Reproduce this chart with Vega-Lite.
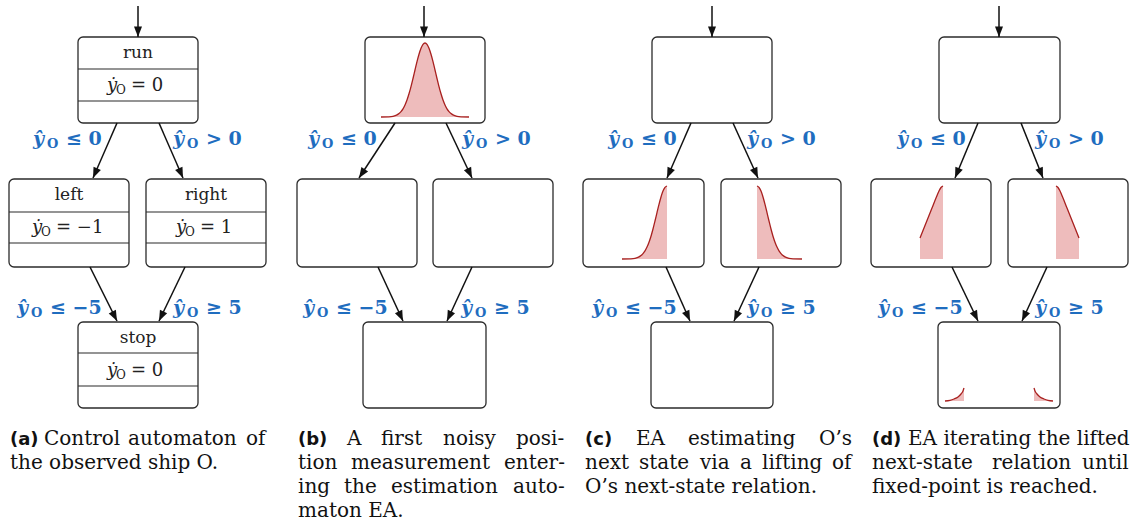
{
  "$schema": "https://vega.github.io/schema/vega-lite/v6.json",
  "width": 1132,
  "height": 525,
  "autosize": {"type": "fit", "contains": "padding"},
  "padding": 0,
  "background": "white",
  "config": {"view": {"stroke": null}},
  "datasets": {
    "boxes": [
      {"x": 78, "y": 37, "x2": 198, "y2": 123},
      {"x": 9, "y": 179, "x2": 129, "y2": 267},
      {"x": 146, "y": 179, "x2": 266, "y2": 267},
      {"x": 78, "y": 322, "x2": 198, "y2": 408},
      {"x": 365, "y": 37, "x2": 485, "y2": 123},
      {"x": 297, "y": 179, "x2": 417, "y2": 267},
      {"x": 433, "y": 179, "x2": 553, "y2": 267},
      {"x": 363, "y": 322, "x2": 486, "y2": 408},
      {"x": 652, "y": 37, "x2": 772, "y2": 123},
      {"x": 583, "y": 179, "x2": 704, "y2": 267},
      {"x": 721, "y": 179, "x2": 841, "y2": 267},
      {"x": 651, "y": 322, "x2": 773, "y2": 408},
      {"x": 939, "y": 37, "x2": 1060, "y2": 123},
      {"x": 871, "y": 179, "x2": 991, "y2": 267},
      {"x": 1008, "y": 179, "x2": 1128, "y2": 267},
      {"x": 938, "y": 322, "x2": 1060, "y2": 408}
    ],
    "seps": [
      {"x": 78, "x2": 198, "y": 69},
      {"x": 78, "x2": 198, "y": 101},
      {"x": 9, "x2": 129, "y": 212},
      {"x": 9, "x2": 129, "y": 243},
      {"x": 146, "x2": 266, "y": 212},
      {"x": 146, "x2": 266, "y": 243},
      {"x": 78, "x2": 198, "y": 353},
      {"x": 78, "x2": 198, "y": 386}
    ],
    "arrows": [
      {"x": 138, "y": 6, "x2": 138, "y2": 37},
      {"x": 117, "y": 123, "x2": 93, "y2": 178},
      {"x": 159, "y": 123, "x2": 183, "y2": 178},
      {"x": 90, "y": 267, "x2": 117, "y2": 321},
      {"x": 185, "y": 267, "x2": 159, "y2": 321},
      {"x": 424, "y": 6, "x2": 424, "y2": 37},
      {"x": 395, "y": 123, "x2": 359, "y2": 178},
      {"x": 446, "y": 123, "x2": 472, "y2": 178},
      {"x": 378, "y": 267, "x2": 403, "y2": 321},
      {"x": 472, "y": 267, "x2": 447, "y2": 321},
      {"x": 712, "y": 6, "x2": 712, "y2": 37},
      {"x": 691, "y": 123, "x2": 667, "y2": 178},
      {"x": 733, "y": 123, "x2": 758, "y2": 178},
      {"x": 666, "y": 267, "x2": 690, "y2": 321},
      {"x": 759, "y": 267, "x2": 734, "y2": 321},
      {"x": 999, "y": 6, "x2": 999, "y2": 37},
      {"x": 978, "y": 123, "x2": 955, "y2": 178},
      {"x": 1021, "y": 123, "x2": 1043, "y2": 178},
      {"x": 952, "y": 267, "x2": 978, "y2": 321},
      {"x": 1047, "y": 267, "x2": 1022, "y2": 321}
    ],
    "names": [
      {"x": 138, "y": 53, "t": "run"},
      {"x": 69, "y": 195, "t": "left"},
      {"x": 206, "y": 195, "t": "right"},
      {"x": 138, "y": 338, "t": "stop"}
    ],
    "math": [
      {"x": 107, "y": 86, "rel": "= 0"},
      {"x": 32, "y": 228, "rel": "= −1"},
      {"x": 176, "y": 228, "rel": "= 1"},
      {"x": 107, "y": 371, "rel": "= 0"}
    ],
    "labels": [
      {"x": 33, "y": 139, "rel": "≤ 0"},
      {"x": 173, "y": 139, "rel": "> 0"},
      {"x": 17, "y": 308, "rel": "≤ −5"},
      {"x": 173, "y": 308, "rel": "≥ 5"},
      {"x": 308, "y": 139, "rel": "≤ 0"},
      {"x": 462, "y": 139, "rel": "> 0"},
      {"x": 303, "y": 308, "rel": "≤ −5"},
      {"x": 461, "y": 308, "rel": "≥ 5"},
      {"x": 608, "y": 139, "rel": "≤ 0"},
      {"x": 747, "y": 139, "rel": "> 0"},
      {"x": 592, "y": 308, "rel": "≤ −5"},
      {"x": 747, "y": 308, "rel": "≥ 5"},
      {"x": 897, "y": 139, "rel": "≤ 0"},
      {"x": 1035, "y": 139, "rel": "> 0"},
      {"x": 878, "y": 308, "rel": "≤ −5"},
      {"x": 1035, "y": 308, "rel": "≥ 5"}
    ],
    "curves": [
      {"id": "b", "x": 381, "y": 117, "b": 117},
      {"id": "b", "x": 389, "y": 116.8, "b": 117},
      {"id": "b", "x": 393, "y": 116.3, "b": 117},
      {"id": "b", "x": 397, "y": 114.9, "b": 117},
      {"id": "b", "x": 399, "y": 113.6, "b": 117},
      {"id": "b", "x": 401, "y": 111.6, "b": 117},
      {"id": "b", "x": 403, "y": 108.8, "b": 117},
      {"id": "b", "x": 405, "y": 104.9, "b": 117},
      {"id": "b", "x": 407, "y": 100, "b": 117},
      {"id": "b", "x": 409, "y": 93.8, "b": 117},
      {"id": "b", "x": 411, "y": 86.6, "b": 117},
      {"id": "b", "x": 413, "y": 78.5, "b": 117},
      {"id": "b", "x": 415, "y": 70, "b": 117},
      {"id": "b", "x": 417, "y": 61.6, "b": 117},
      {"id": "b", "x": 419, "y": 54.2, "b": 117},
      {"id": "b", "x": 421, "y": 48.2, "b": 117},
      {"id": "b", "x": 423, "y": 44.3, "b": 117},
      {"id": "b", "x": 425, "y": 43, "b": 117},
      {"id": "b", "x": 427, "y": 44.3, "b": 117},
      {"id": "b", "x": 429, "y": 48.2, "b": 117},
      {"id": "b", "x": 431, "y": 54.2, "b": 117},
      {"id": "b", "x": 433, "y": 61.6, "b": 117},
      {"id": "b", "x": 435, "y": 70, "b": 117},
      {"id": "b", "x": 437, "y": 78.5, "b": 117},
      {"id": "b", "x": 439, "y": 86.6, "b": 117},
      {"id": "b", "x": 441, "y": 93.8, "b": 117},
      {"id": "b", "x": 443, "y": 100, "b": 117},
      {"id": "b", "x": 445, "y": 104.9, "b": 117},
      {"id": "b", "x": 447, "y": 108.8, "b": 117},
      {"id": "b", "x": 449, "y": 111.6, "b": 117},
      {"id": "b", "x": 451, "y": 113.6, "b": 117},
      {"id": "b", "x": 453, "y": 114.9, "b": 117},
      {"id": "b", "x": 457, "y": 116.3, "b": 117},
      {"id": "b", "x": 461, "y": 116.8, "b": 117},
      {"id": "b", "x": 469, "y": 117, "b": 117},

      {"id": "cl", "x": 622, "y": 259, "b": 259},
      {"id": "cl", "x": 631, "y": 258.8, "b": 259},
      {"id": "cl", "x": 635, "y": 258.3, "b": 259},
      {"id": "cl", "x": 639, "y": 256.9, "b": 259},
      {"id": "cl", "x": 641, "y": 255.6, "b": 259},
      {"id": "cl", "x": 643, "y": 253.6, "b": 259},
      {"id": "cl", "x": 645, "y": 250.9, "b": 259},
      {"id": "cl", "x": 647, "y": 247.1, "b": 259},
      {"id": "cl", "x": 649, "y": 242.2, "b": 259},
      {"id": "cl", "x": 651, "y": 236.2, "b": 259},
      {"id": "cl", "x": 653, "y": 229, "b": 259},
      {"id": "cl", "x": 655, "y": 221, "b": 259},
      {"id": "cl", "x": 657, "y": 212.6, "b": 259},
      {"id": "cl", "x": 659, "y": 204.4, "b": 259},
      {"id": "cl", "x": 661, "y": 197, "b": 259},
      {"id": "cl", "x": 663, "y": 191.1, "b": 259},
      {"id": "cl", "x": 665, "y": 187.3, "b": 259},
      {"id": "cl", "x": 667, "y": 186, "b": 259},

      {"id": "cr", "x": 757, "y": 186, "b": 259},
      {"id": "cr", "x": 759, "y": 187.3, "b": 259},
      {"id": "cr", "x": 761, "y": 191.1, "b": 259},
      {"id": "cr", "x": 763, "y": 197, "b": 259},
      {"id": "cr", "x": 765, "y": 204.4, "b": 259},
      {"id": "cr", "x": 767, "y": 212.6, "b": 259},
      {"id": "cr", "x": 769, "y": 221, "b": 259},
      {"id": "cr", "x": 771, "y": 229, "b": 259},
      {"id": "cr", "x": 773, "y": 236.2, "b": 259},
      {"id": "cr", "x": 775, "y": 242.2, "b": 259},
      {"id": "cr", "x": 777, "y": 247.1, "b": 259},
      {"id": "cr", "x": 779, "y": 250.9, "b": 259},
      {"id": "cr", "x": 781, "y": 253.6, "b": 259},
      {"id": "cr", "x": 783, "y": 255.6, "b": 259},
      {"id": "cr", "x": 785, "y": 256.9, "b": 259},
      {"id": "cr", "x": 789, "y": 258.3, "b": 259},
      {"id": "cr", "x": 793, "y": 258.8, "b": 259},
      {"id": "cr", "x": 802, "y": 259, "b": 259},

      {"id": "dl", "x": 920, "y": 238, "b": 259},
      {"id": "dl", "x": 924, "y": 228, "b": 259},
      {"id": "dl", "x": 928, "y": 218, "b": 259},
      {"id": "dl", "x": 932, "y": 208, "b": 259},
      {"id": "dl", "x": 936, "y": 198, "b": 259},
      {"id": "dl", "x": 939, "y": 191, "b": 259},
      {"id": "dl", "x": 941, "y": 187.5, "b": 259},
      {"id": "dl", "x": 943, "y": 186, "b": 259},

      {"id": "dr", "x": 1056, "y": 186, "b": 259},
      {"id": "dr", "x": 1058, "y": 187.5, "b": 259},
      {"id": "dr", "x": 1060, "y": 191, "b": 259},
      {"id": "dr", "x": 1063, "y": 198, "b": 259},
      {"id": "dr", "x": 1067, "y": 208, "b": 259},
      {"id": "dr", "x": 1071, "y": 218, "b": 259},
      {"id": "dr", "x": 1075, "y": 228, "b": 259},
      {"id": "dr", "x": 1079, "y": 238, "b": 259},

      {"id": "tl", "x": 945, "y": 401, "b": 401},
      {"id": "tl", "x": 950, "y": 400.3, "b": 401},
      {"id": "tl", "x": 954, "y": 399, "b": 401},
      {"id": "tl", "x": 958, "y": 397, "b": 401},
      {"id": "tl", "x": 961, "y": 394, "b": 401},
      {"id": "tl", "x": 963, "y": 391, "b": 401},
      {"id": "tl", "x": 964, "y": 388, "b": 401},

      {"id": "tr", "x": 1034, "y": 388, "b": 401},
      {"id": "tr", "x": 1035, "y": 391, "b": 401},
      {"id": "tr", "x": 1037, "y": 394, "b": 401},
      {"id": "tr", "x": 1040, "y": 397, "b": 401},
      {"id": "tr", "x": 1044, "y": 399, "b": 401},
      {"id": "tr", "x": 1048, "y": 400.3, "b": 401},
      {"id": "tr", "x": 1053, "y": 401, "b": 401}
    ],
    "capbold": [
      {"x": 10, "y": 445, "t": "(a)"},
      {"x": 298, "y": 445, "t": "(b)"},
      {"x": 585, "y": 445, "t": "(c)"},
      {"x": 872, "y": 445, "t": "(d)"}
    ],
    "caps": [
      {"x": 44, "y": 445, "t": "Control"},
      {"x": 128, "y": 445, "t": "automaton"},
      {"x": 246, "y": 445, "t": "of"},
      {"x": 10, "y": 469, "t": "the observed ship O."},
      {"x": 347, "y": 445, "t": "A"},
      {"x": 381, "y": 445, "t": "first"},
      {"x": 443, "y": 445, "t": "noisy"},
      {"x": 516, "y": 445, "t": "posi-"},
      {"x": 298, "y": 469, "t": "tion"},
      {"x": 351, "y": 469, "t": "measurement"},
      {"x": 504, "y": 469, "t": "enter-"},
      {"x": 298, "y": 493, "t": "ing"},
      {"x": 344, "y": 493, "t": "the"},
      {"x": 391, "y": 493, "t": "estimation"},
      {"x": 513, "y": 493, "t": "auto-"},
      {"x": 298, "y": 517, "t": "maton EA."},
      {"x": 636, "y": 445, "t": "EA"},
      {"x": 688, "y": 445, "t": "estimating"},
      {"x": 819, "y": 445, "t": "O’s"},
      {"x": 585, "y": 469, "t": "next"},
      {"x": 639, "y": 469, "t": "state"},
      {"x": 700, "y": 469, "t": "via"},
      {"x": 740, "y": 469, "t": "a"},
      {"x": 762, "y": 469, "t": "lifting"},
      {"x": 832, "y": 469, "t": "of"},
      {"x": 585, "y": 493, "t": "O’s next-state relation."},
      {"x": 908, "y": 445, "t": "EA iterating the lifted"},
      {"x": 872, "y": 469, "t": "next-state"},
      {"x": 992, "y": 469, "t": "relation"},
      {"x": 1082, "y": 469, "t": "until"},
      {"x": 872, "y": 493, "t": "fixed-point is reached."}
    ]
  },
  "encoding": {
    "x": {"field": "x", "type": "quantitative", "scale": {"domain": [0, 1132], "nice": false, "zero": false}, "axis": null},
    "y": {"field": "y", "type": "quantitative", "scale": {"domain": [0, 525], "nice": false, "zero": false, "reverse": true}, "axis": null}
  },
  "layer": [
    {
      "data": {"name": "boxes"},
      "mark": {"type": "rect", "cornerRadius": 5, "fill": "white", "stroke": "#2b2b2b", "strokeWidth": 1.3},
      "encoding": {"x2": {"field": "x2"}, "y2": {"field": "y2"}}
    },
    {
      "data": {"name": "seps"},
      "mark": {"type": "rule", "color": "#2b2b2b", "strokeWidth": 1.2},
      "encoding": {"x2": {"field": "x2"}}
    },
    {
      "data": {"name": "curves"},
      "mark": {"type": "area", "interpolate": "monotone", "color": "#eebcbc", "opacity": 1, "line": {"color": "#a8201f", "strokeWidth": 1.3}},
      "encoding": {"y2": {"field": "b"}, "detail": {"field": "id"}}
    },
    {
      "data": {"name": "arrows"},
      "mark": {"type": "rule", "color": "#111", "strokeWidth": 1.5},
      "encoding": {"x2": {"field": "x2"}, "y2": {"field": "y2"}}
    },
    {
      "data": {"name": "arrows"},
      "transform": [{"calculate": "-atan2(datum.x2 - datum.x, datum.y2 - datum.y) * 180 / PI", "as": "ang"}],
      "mark": {"type": "point", "shape": "M0,0L-0.8,-2.1L0.8,-2.1Z", "filled": true, "size": 100, "color": "#111", "opacity": 1},
      "encoding": {
        "x": {"field": "x2", "type": "quantitative"},
        "y": {"field": "y2", "type": "quantitative"},
        "angle": {"field": "ang", "type": "quantitative", "scale": null}
      }
    },
    {
      "data": {"name": "names"},
      "mark": {"type": "text", "font": "DejaVu Serif", "fontSize": 17, "align": "center", "baseline": "middle", "color": "#222"},
      "encoding": {"text": {"field": "t"}}
    },
    {
      "data": {"name": "math"},
      "mark": {"type": "text", "text": "ẏ", "font": "DejaVu Serif", "fontStyle": "italic", "fontSize": 18, "align": "left", "baseline": "middle", "color": "#222"}
    },
    {
      "data": {"name": "math"},
      "mark": {"type": "text", "text": "O", "font": "DejaVu Serif", "fontSize": 12, "align": "left", "baseline": "middle", "dx": 9, "dy": 4, "color": "#222"}
    },
    {
      "data": {"name": "math"},
      "mark": {"type": "text", "font": "DejaVu Serif", "fontSize": 18, "align": "left", "baseline": "middle", "dx": 24, "color": "#222"},
      "encoding": {"text": {"field": "rel"}}
    },
    {
      "data": {"name": "labels"},
      "mark": {"type": "text", "text": "ŷ", "font": "DejaVu Serif", "fontWeight": "bold", "fontStyle": "italic", "fontSize": 19, "align": "left", "baseline": "middle", "color": "#1f6dbf"}
    },
    {
      "data": {"name": "labels"},
      "mark": {"type": "text", "text": "O", "font": "DejaVu Serif", "fontWeight": "bold", "fontSize": 13, "align": "left", "baseline": "middle", "dx": 14, "dy": 5, "color": "#1f6dbf"}
    },
    {
      "data": {"name": "labels"},
      "mark": {"type": "text", "font": "DejaVu Serif", "fontWeight": "bold", "fontSize": 19, "align": "left", "baseline": "middle", "dx": 33, "color": "#1f6dbf"},
      "encoding": {"text": {"field": "rel"}}
    },
    {
      "data": {"name": "capbold"},
      "mark": {"type": "text", "font": "DejaVu Sans", "fontWeight": "bold", "fontSize": 18, "align": "left", "baseline": "alphabetic", "color": "#111"},
      "encoding": {"text": {"field": "t"}}
    },
    {
      "data": {"name": "caps"},
      "mark": {"type": "text", "font": "DejaVu Serif", "fontSize": 20, "align": "left", "baseline": "alphabetic", "color": "#111"},
      "encoding": {"text": {"field": "t"}}
    }
  ]
}
